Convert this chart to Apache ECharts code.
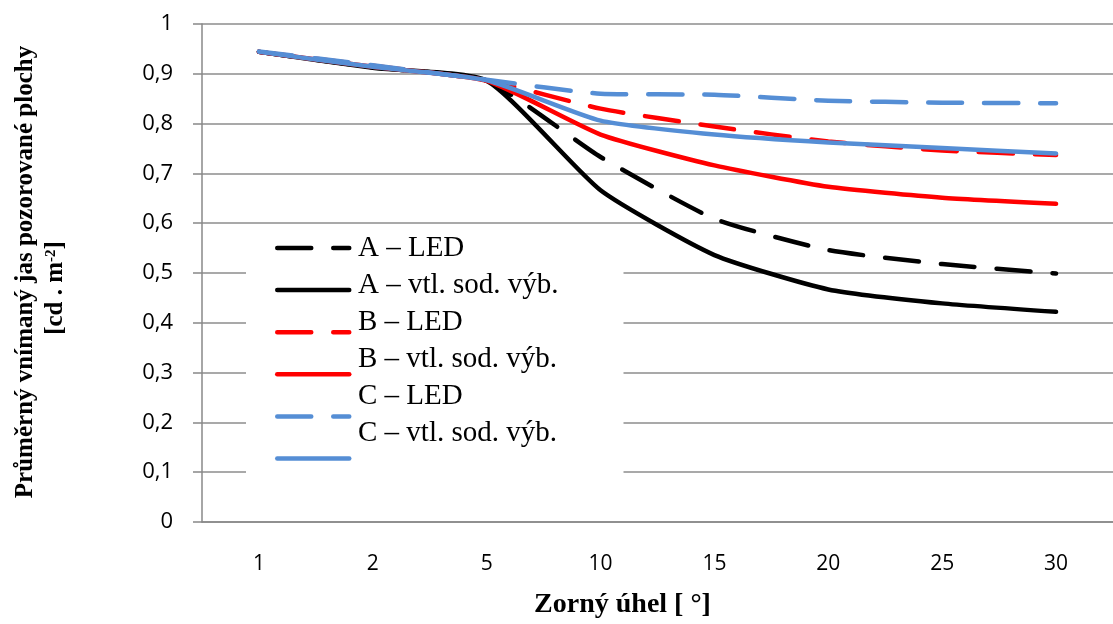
<!DOCTYPE html>
<html>
<head>
<meta charset="utf-8">
<script src="https://cdn.jsdelivr.net/npm/echarts@6/dist/echarts.min.js"></script>
<style>
html,body{margin:0;padding:0;background:#fff;}
#chart{width:1113px;height:624px;}
</style>
</head>
<body>
<div id="chart"></div>
<script>
// ---- data ----
const categories = ['1', '2', '5', '10', '15', '20', '25', '30'];
const seriesNames = ['A – LED', 'A – vtl. sod. výb.', 'B – LED', 'B – vtl. sod. výb.', 'C – LED', 'C – vtl. sod. výb.'];
const aLed = [0.944, 0.913, 0.886, 0.733, 0.609, 0.546, 0.518, 0.499];
const aVtl = [0.944, 0.912, 0.886, 0.666, 0.536, 0.467, 0.439, 0.422];
const bLed = [0.944, 0.916, 0.887, 0.830, 0.794, 0.764, 0.746, 0.737];
const bVtl = [0.944, 0.914, 0.886, 0.778, 0.716, 0.673, 0.651, 0.639];
const cLed = [0.945, 0.917, 0.888, 0.860, 0.858, 0.846, 0.842, 0.841];
const cVtl = [0.944, 0.914, 0.887, 0.806, 0.778, 0.762, 0.751, 0.740];
const yTitleLine1 = 'Průměrný vnímaný jas pozorované plochy';
const yTitleLine2 = '[cd . m{sup|-2}]';
const xTitle = 'Zorný úhel [ °]';

const values = [aLed, aVtl, bLed, bVtl, cLed, cVtl];
const colors = ['#000000', '#000000', '#FF0000', '#FF0000', '#558ED5', '#558ED5'];
const dashed = [true, false, true, false, true, false];
const DASH = [34, 22];
const LW = 4.5;

const chart = echarts.init(document.getElementById('chart'), null, {renderer: 'canvas'});

const lineStyleFor = i => ({
  color: colors[i],
  width: LW,
  type: dashed[i] ? DASH : 'solid',
  cap: 'round',
  join: 'round'
});

const series = values.map((d, i) => ({
  name: seriesNames[i],
  type: 'line',
  data: d,
  smooth: 0.18,
  symbol: 'none',
  color: colors[i],
  lineStyle: lineStyleFor(i),
  z: 3,
  emphasis: {disabled: true}
}));

const option = {
  animation: false,
  backgroundColor: '#ffffff',
  grid: {left: 202, right: -14, top: 24, bottom: 100, containLabel: false},
  xAxis: {
    type: 'category',
    data: categories,
    boundaryGap: true,
    axisLine: {show: true, lineStyle: {color: '#888888', width: 1.5}},
    axisTick: {show: false},
    axisLabel: {margin: 32, color: '#000', fontFamily: 'Open Sans', fontSize: 21},
    splitLine: {show: false},
    name: xTitle,
    nameLocation: 'middle',
    nameGap: 69,
    nameTextStyle: {fontFamily: 'Liberation Serif', fontWeight: 'bold', fontSize: 28, color: '#000', padding: [0, 70, 0, 0]}
  },
  yAxis: {
    type: 'value',
    min: 0,
    max: 1,
    interval: 0.1,
    axisLine: {show: true, lineStyle: {color: '#888888', width: 1.5}},
    axisTick: {show: true, inside: false, length: 9, lineStyle: {color: '#888888', width: 1.5}},
    axisLabel: {
      margin: 29, color: '#000', fontFamily: 'Open Sans', fontSize: 22,
      formatter: v => String(+v.toFixed(1)).replace('.', ',')
    },
    splitLine: {show: true, lineStyle: {color: '#8c8c8c', width: 1.5}}
  },
  legend: [
    {
      // line samples (white box behind the legend, above gridlines, below series)
      data: seriesNames.map((n, i) => ({name: n, itemStyle: {opacity: 0}, lineStyle: lineStyleFor(i)})),
      orient: 'vertical',
      left: 246,
      top: 228,
      padding: [13, 272, 20, 29],
      backgroundColor: '#ffffff',
      itemWidth: 72,
      itemHeight: 14,
      itemGap: 29.5,
      formatter: () => '',
      textStyle: {fontSize: 1},
      selectedMode: false,
      z: 2
    },
    {
      // labels
      data: seriesNames,
      orient: 'vertical',
      left: 351,
      top: 234,
      padding: 0,
      itemWidth: 1,
      itemHeight: 1,
      itemGap: 8,
      itemStyle: {opacity: 0},
      lineStyle: {opacity: 0},
      textStyle: {fontFamily: 'Liberation Serif', fontSize: 29, lineHeight: 26, color: '#000'},
      selectedMode: false,
      z: 5
    }
  ],
  graphic: [
    {
      type: 'text',
      x: 26, y: 272,
      rotation: Math.PI / 2,
      style: {
        text: yTitleLine1,
        font: 'bold 25px "Liberation Serif"',
        fill: '#000',
        align: 'center',
        verticalAlign: 'middle'
      }
    },
    {
      type: 'text',
      x: 56, y: 288,
      rotation: Math.PI / 2,
      style: {
        text: yTitleLine2,
        font: 'bold 25px "Liberation Serif"',
        fill: '#000',
        align: 'center',
        verticalAlign: 'middle',
        rich: {
          sup: {font: 'bold 15px "Liberation Serif"', verticalAlign: 'top', fill: '#000'}
        }
      }
    }
  ],
  series: series
};
chart.setOption(option);
</script>
</body>
</html>
